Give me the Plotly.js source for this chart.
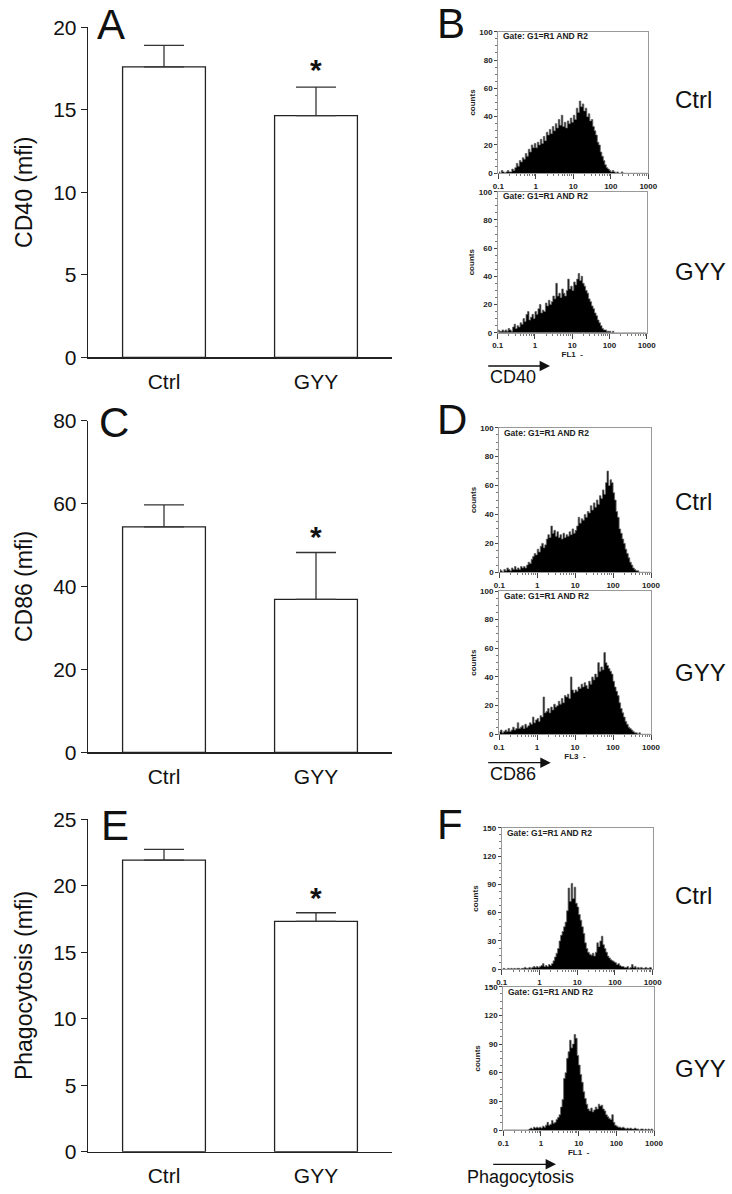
<!DOCTYPE html>
<html><head><meta charset="utf-8">
<script src="https://cdn.plot.ly/plotly-3.0.1.min.js"></script>
<style>html,body{margin:0;padding:0;background:#fff;}#fig{width:732px;height:1194px;}</style>
</head><body><div id="fig"></div>
<script>
// ---------- bar chart data ----------
const groups = ['Ctrl', 'GYY'];
const cd40Mean = [17.6, 14.65];
const cd40Err = [1.3, 1.72];
const cd86Mean = [54.4, 36.9];
const cd86Err = [5.3, 11.3];
const phagoMean = [21.93, 17.32];
const phagoErr = [0.81, 0.65];
const starAt = [17.45, 52.0, 19.1];

// ---------- histogram data (100 log channels, 0.1 - 1000) ----------
const decadeTicks = [0.1, 1, 10, 100, 1000];
const decadeLabels = ['0.1', '1', '10', '100', '1000'];
const cd40Ctrl = [
 1,0,2,1,0,1,2,1,1,3,2,4,7,5,9,8,11,10,14,12,17,15,20,18,21,
 18,22,20,24,21,26,23,29,27,31,28,33,30,35,32,38,34,41,33,36,32,37,35,39,36,
 41,38,46,43,51,47,49,44,46,40,42,37,38,33,30,27,22,20,15,12,9,6,4,3,2,
 1,2,1,0,1,0,0,1,0,0,0,0,0,0,0,0,0,0,0,0,0,0,0,0,0];
const cd40Gyy = [
 2,1,1,2,1,2,1,3,2,1,4,6,3,5,4,7,6,10,8,13,15,9,11,13,10,
 15,13,17,20,14,16,15,21,19,23,20,22,26,24,35,26,28,25,31,28,26,30,38,31,33,
 30,36,34,38,42,37,40,35,33,30,28,24,22,19,17,14,12,9,7,5,3,2,2,1,1,
 1,0,1,0,0,0,0,0,0,0,0,0,0,0,0,0,0,0,0,0,0,0,0,0,0];
const cd86Ctrl = [
 2,1,0,2,1,3,2,1,3,2,4,2,3,2,4,3,4,3,5,7,6,9,11,13,12,
 16,14,18,20,17,19,23,26,24,32,27,29,25,28,24,26,23,27,24,26,25,28,26,30,27,
 29,32,38,34,37,36,40,38,42,41,46,43,48,45,50,47,53,51,57,54,62,70,60,64,62,
 55,50,42,38,30,27,23,20,16,13,10,7,5,3,2,1,1,0,0,0,0,0,0,0,0];
const cd86Gyy = [
 2,3,1,2,3,2,4,2,3,5,3,4,8,4,5,6,4,7,5,6,8,7,12,8,10,
 11,9,13,12,26,15,16,18,15,19,17,21,19,20,23,21,25,22,27,26,28,25,40,31,29,
 31,30,33,32,35,33,36,34,32,37,35,40,38,42,40,50,44,47,45,57,50,48,46,44,42,
 37,33,30,27,22,18,15,12,9,7,5,4,3,2,1,1,0,1,0,0,0,0,0,0,0];
const phagoCtrl = [
 0,1,0,0,1,0,1,0,1,0,1,1,0,1,1,2,1,1,2,1,2,3,2,3,2,
 3,4,6,3,4,3,5,4,6,9,13,17,22,30,36,40,45,50,62,86,72,91,75,87,70,
 66,58,52,45,38,28,22,18,16,15,17,14,18,28,24,30,35,26,22,18,14,12,10,9,8,
 7,5,6,4,3,3,2,2,3,1,2,5,2,3,1,2,1,2,1,1,2,1,1,2,1];
const phagoGyy = [
 0,0,0,0,0,0,0,0,0,0,0,0,0,0,0,0,0,1,2,1,3,2,3,2,3,
 2,4,3,5,8,5,6,10,7,8,11,13,16,24,32,54,60,75,82,94,86,90,100,96,78,
 68,58,50,40,33,27,22,20,23,19,21,24,22,27,25,26,22,20,16,14,12,11,16,8,5,
 4,3,3,2,3,2,1,2,1,2,1,1,2,1,1,0,1,1,0,1,0,1,0,1,0];

// log channel -> fluorescence value (4 decades, 100 channels)
const channels = cd40Ctrl.map((_, i) => Math.pow(10, -1 + 4 * (i + 0.5) / cd40Ctrl.length));
const minorTicks = [];
decadeTicks.slice(0, 4).forEach(d => { for (let k = 2; k <= 9; k++) minorTicks.push(d * k); });

const W = 732, H = 1194;
const FONT = 'Liberation Sans, Arial, sans-serif';
const xd = (a, b) => [a / W, b / W];
const yd = (top, bottom) => [1 - bottom / H, 1 - top / H];

const layout = {
  width: W, height: H, margin: {l: 0, r: 0, t: 0, b: 0},
  paper_bgcolor: '#fff', plot_bgcolor: 'rgba(0,0,0,0)',
  showlegend: false, font: {family: FONT, color: '#111'},
  annotations: [], shapes: []
};
const data = [];

// ---------- bar panels ----------
const barPanels = [
  {n: '', mean: cd40Mean, err: cd40Err, max: 20, dtick: 5, title: 'CD40 (mfi)', top: 27.3, bottom: 357.3},
  {n: '2', mean: cd86Mean, err: cd86Err, max: 80, dtick: 20, title: 'CD86 (mfi)', top: 420.7, bottom: 752.3},
  {n: '3', mean: phagoMean, err: phagoErr, max: 25, dtick: 5, title: 'Phagocytosis (mfi)', top: 819.3, bottom: 1151.7}
];
barPanels.forEach((p, k) => {
  layout['xaxis' + p.n] = {
    domain: xd(88, 392), type: 'category', range: [-0.5, 1.5], anchor: 'y' + p.n,
    showline: true, linecolor: '#222', linewidth: 1.3, ticks: '', showgrid: false, zeroline: false,
    tickfont: {family: FONT, size: 21, color: '#111'}, ticklabelstandoff: 5, fixedrange: true
  };
  layout['yaxis' + p.n] = {
    domain: yd(p.top, p.bottom), range: [0, p.max], tickmode: 'linear', tick0: 0, dtick: p.dtick,
    anchor: 'x' + p.n, showline: true, linecolor: '#222', linewidth: 1.3,
    ticks: 'outside', ticklen: 6, tickwidth: 1.3, tickcolor: '#222', showgrid: false, zeroline: false,
    tickfont: {family: FONT, size: 21, color: '#111'},
    title: {text: p.title, font: {family: FONT, size: 23, color: '#111'}, standoff: 14}, fixedrange: true
  };
  data.push({
    type: 'bar', x: groups, y: p.mean, xaxis: 'x' + p.n, yaxis: 'y' + p.n, width: 0.545,
    marker: {color: '#fff', line: {color: '#222', width: 1.3}},
    error_y: {type: 'data', array: p.err, arrayminus: [0, 0], symmetric: false, color: '#333', thickness: 1.3, width: 20},
    hoverinfo: 'skip', cliponaxis: false
  });
  layout.annotations.push({
    xref: 'x' + p.n, yref: 'y' + p.n, x: groups[1], y: starAt[k], text: '*', showarrow: false,
    font: {family: FONT, size: 30, color: '#111', weight: 'bold'}, xanchor: 'center', yanchor: 'middle'
  });
});

// ---------- histogram panels ----------
const histPanels = [
  {n: 4, counts: cd40Ctrl, x0: 498.3, x1: 648.3, top: 31.7, bottom: 173.3, ymax: 100, step: 20, xt: ''},
  {n: 5, counts: cd40Gyy, x0: 497.7, x1: 646.7, top: 191.7, bottom: 332.7, ymax: 100, step: 20, xt: 'FL1  -'},
  {n: 6, counts: cd86Ctrl, x0: 499.3, x1: 651, top: 427.7, bottom: 572.3, ymax: 100, step: 20, xt: ''},
  {n: 7, counts: cd86Gyy, x0: 499, x1: 651, top: 591, bottom: 734.3, ymax: 100, step: 20, xt: 'FL3  -'},
  {n: 8, counts: phagoCtrl, x0: 501.7, x1: 652.7, top: 827.7, bottom: 969.3, ymax: 150, step: 30, xt: ''},
  {n: 9, counts: phagoGyy, x0: 503.3, x1: 654, top: 986.7, bottom: 1130, ymax: 150, step: 30, xt: 'FL1  -'}
];
const small = {family: FONT, size: 8, color: '#222', weight: 'bold'};
histPanels.forEach(p => {
  const xa = {
    domain: xd(p.x0, p.x1), type: 'log', range: [-1, 3], anchor: 'y' + p.n,
    tickmode: 'array', tickvals: decadeTicks, ticktext: decadeLabels,
    ticks: 'outside', ticklen: 5, tickwidth: 1, tickcolor: '#444',
    showline: true, mirror: true, linecolor: '#999', linewidth: 1, showgrid: false, zeroline: false,
    tickfont: small, ticklabelstandoff: 0,
    minor: {tickmode: 'array', tickvals: minorTicks, ticks: 'outside', ticklen: 2, tickcolor: '#777', showgrid: false},
    fixedrange: true
  };
  if (p.xt) xa.title = {text: p.xt, font: small, standoff: 1};
  layout['xaxis' + p.n] = xa;
  layout['yaxis' + p.n] = {
    domain: yd(p.top, p.bottom), range: [0, p.ymax], anchor: 'x' + p.n,
    tickmode: 'linear', tick0: 0, dtick: p.step,
    ticks: 'outside', ticklen: 3, tickwidth: 1, tickcolor: '#444',
    showline: true, mirror: true, linecolor: '#999', linewidth: 1, showgrid: false, zeroline: false,
    tickfont: small, title: {text: 'counts', font: small, standoff: 2},
    minor: {dtick: p.step / 4, ticks: 'outside', ticklen: 2, tickcolor: '#777', showgrid: false},
    fixedrange: true
  };
  data.push({
    type: 'scatter', mode: 'lines', x: channels, y: p.counts, xaxis: 'x' + p.n, yaxis: 'y' + p.n,
    line: {shape: 'hvh', color: '#666', width: 0.8}, fill: 'tozeroy', fillcolor: '#000', hoverinfo: 'skip'
  });
  layout.annotations.push({
    xref: 'paper', yref: 'paper', x: (p.x0 + 3) / W, y: 1 - (p.top + 4.8) / H,
    xanchor: 'left', yanchor: 'middle', showarrow: false, text: 'Gate: G1=R1 AND R2',
    font: {family: FONT, size: 8.5, color: '#222', weight: 'bold'}
  });
});

// ---------- text labels ----------
const paperText = (x, y, text, size, anchor) => layout.annotations.push({
  xref: 'paper', yref: 'paper', x: x / W, y: 1 - y / H, text, showarrow: false,
  xanchor: anchor || 'left', yanchor: 'middle', font: {family: FONT, size, color: '#111'}
});
[['A', 95, 25], ['C', 97, 422], ['E', 99, 825], ['B', 435, 24], ['D', 435, 420], ['F', 435, 824]]
  .forEach(([t, x, y]) => paperText(x, y, t, 42));
[['Ctrl', 100], ['GYY', 271.7], ['Ctrl', 501.7], ['GYY', 672.7], ['Ctrl', 895], ['GYY', 1068]]
  .forEach(([t, y]) => paperText(673, y, t, 24));
[['CD40', 488, 377, 486.7, 550, 366], ['CD86', 488, 774, 486.7, 550.7, 762.7], ['Phagocytosis', 465, 1177, 491.7, 556, 1164.3]]
  .forEach(([t, tx, ty, a0, a1, ay]) => {
    paperText(tx, ty, t, 18);
    layout.annotations.push({
      xref: 'paper', yref: 'paper', x: a1 / W, y: 1 - ay / H, axref: 'pixel', ayref: 'pixel',
      ax: a0 - a1, ay: 0, text: '', showarrow: true, arrowhead: 2, arrowsize: 1.6, arrowwidth: 1.3, arrowcolor: '#111'
    });
  });

Plotly.newPlot('fig', data, layout, {staticPlot: true, displayModeBar: false});
</script></body></html>
